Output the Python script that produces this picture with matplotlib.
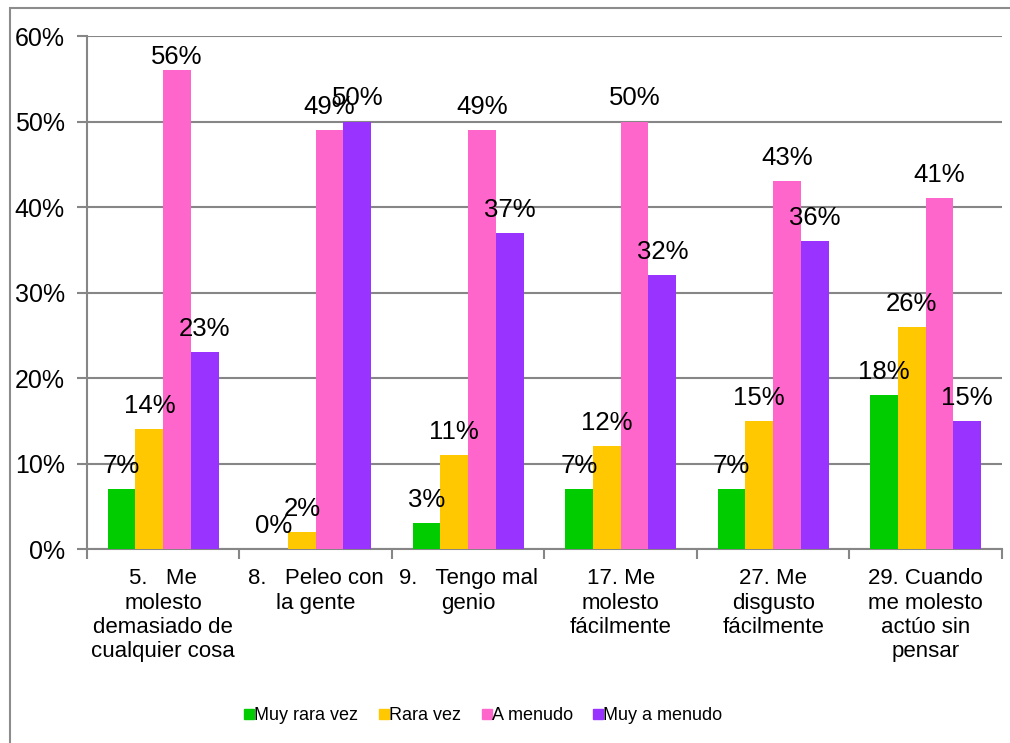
import matplotlib
matplotlib.use("Agg")
import matplotlib.pyplot as plt
import numpy as np
from matplotlib.patches import Rectangle
from matplotlib.lines import Line2D

plt.rcParams['font.family'] = ['Liberation Sans', 'DejaVu Sans']

# Données
categorias = [
    "5.   Me\nmolesto\ndemasiado de\ncualquier cosa",
    "8.   Peleo con\nla gente",
    "9.   Tengo mal\ngenio",
    "17. Me\nmolesto\nfácilmente",
    "27. Me\ndisgusto\nfácilmente",
    "29. Cuando\nme molesto\nactúo sin\npensar",
]
series = ["Muy rara vez", "Rara vez", "A menudo", "Muy a menudo"]
muy_rara_vez = [7, 0, 3, 7, 7, 18]
rara_vez = [14, 2, 11, 12, 15, 26]
a_menudo = [56, 49, 49, 50, 43, 41]
muy_a_menudo = [23, 50, 37, 32, 36, 15]
valores = [muy_rara_vez, rara_vez, a_menudo, muy_a_menudo]
colores = ['#00CC00', '#FFC800', '#FF66CC', '#9933FF']

fig = plt.figure(figsize=(10.10, 7.43), dpi=100)
ax = fig.add_axes([0.0861, 0.2611, 0.9059, 0.6904])

# cadre du graphique
fig.patches.append(Rectangle((10 / 1010, -0.01), 1.2, 1 - 8 / 743 + 0.01,
                             transform=fig.transFigure, fill=False,
                             edgecolor='#8c8c8c', linewidth=1.5))

x = np.arange(len(categorias))
largeur = 0.182
ymax = 60
for i, (serie, vals, col) in enumerate(zip(series, valores, colores)):
    pos = x + (i - 1.5) * largeur
    ax.bar(pos, vals, largeur, color=col, label=serie, zorder=3)
    for p, v in zip(pos, vals):
        ax.text(p, min(v + 1.3, ymax - 3.8), f"{v}%", ha='center', va='bottom',
                fontsize=18.5, zorder=4)

ax.set_xlim(-0.5, len(categorias) - 0.5)
ax.set_ylim(0, ymax)
ax.set_yticks(range(0, 61, 10))
ax.set_yticklabels([f"{t}%" for t in range(0, 61, 10)], fontsize=18)
ax.grid(True, axis='y', color='#868686', linewidth=1.5, zorder=0)

# graduations entre les catégories
ax.set_xticks(np.arange(-0.5, len(categorias), 1))
ax.set_xticklabels([])
ax.set_xticks(x, minor=True)
ax.set_xticklabels(categorias, minor=True, fontsize=16, linespacing=1.2)
ax.tick_params(axis='x', which='minor', length=0, pad=14)
ax.tick_params(axis='x', which='major', length=7, width=1.5, color='#868686')
ax.tick_params(axis='y', length=7, width=1.5, color='#868686', pad=9)

for s in ['top', 'right']:
    ax.spines[s].set_visible(False)
for s in ['left', 'bottom']:
    ax.spines[s].set_color('#868686')
    ax.spines[s].set_linewidth(1.5)

poignees = [Line2D([], [], marker='s', linestyle='none', markersize=7.5,
                   markerfacecolor=c, markeredgecolor=c) for c in colores]
fig.legend(poignees, series, loc='center', bbox_to_anchor=(0.479, 1 - 716 / 743),
           ncol=4, frameon=False, fontsize=13, handlelength=0.45,
           handletextpad=0.05, columnspacing=1.2)

plt.savefig('out.png', dpi=100)
